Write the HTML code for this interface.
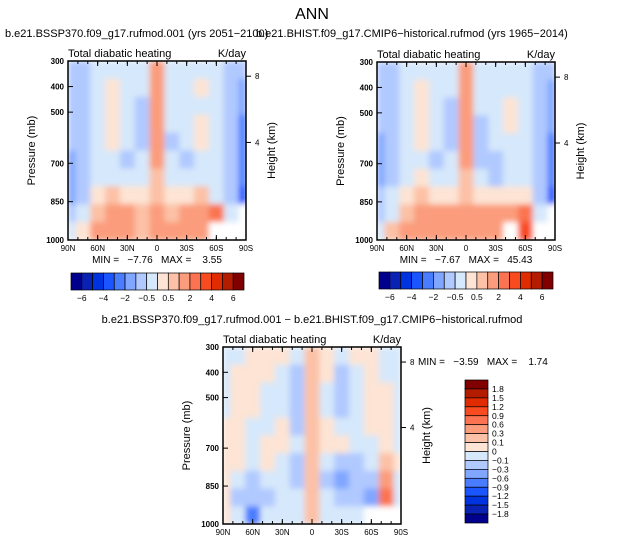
<!DOCTYPE html>
<html><head><meta charset="utf-8"><style>
body{margin:0;background:#fff;}
svg{display:block;font-family:"Liberation Sans",sans-serif;}
.pre{white-space:pre;}
</style></head><body>
<svg id="c" width="625" height="545" viewBox="0 0 625 545">
<defs><filter id="sm" x="0" y="0" width="1" height="1"><feGaussianBlur stdDeviation="3" edgeMode="duplicate"/></filter></defs>
</svg>
<script>
const palette=["#00008c","#0a22b4","#0033e0","#1a55ff","#4a7cff","#80a6ff","#b0c9ff","#d6e8fb","#fde4d4","#fcc1a6","#fb9c7c","#fb7350","#f84c20","#e02c00","#b41c00","#800000"];
const latTicks=["90N","60N","30N","0","30S","60S","90S"];
const presTicks=[300,400,500,700,850,1000];
const cbLabelsTop=["-6","-4","-2","-0.5","0.5","2","4","6"];
const cbLabelsDiff=["1.8","1.5","1.2","0.9","0.6","0.3","0.1","0","-0.1","-0.3","-0.6","-0.9","-1.2","-1.5","-1.8"];
// grid values: color-level index per cell, rows 300->1000 mb, cols 90N->90S; -1 = missing
const gridFuture=[
[6,6,7,7,7,7,10,7,7,7,7,6,6],
[6,6,7,8,7,7,10,7,7,8,7,6,5],
[6,6,7,8,7,6,10,7,7,7,7,6,5],
[6,6,7,8,7,6,10,7,7,8,7,6,4],
[6,6,7,8,7,6,10,6,7,8,7,6,4],
[5,6,7,7,6,7,10,7,6,7,7,6,4],
[5,6,7,7,7,7,9,7,7,7,7,6,4],
[5,6,8,9,8,8,9,8,8,9,7,6,3],
[6,7,9,10,10,9,10,9,10,10,11,7,-1],
[7,8,10,10,10,9,10,10,10,10,-1,-1,-1]];
const gridHist=[
[6,6,7,7,7,7,10,7,7,7,7,6,6],
[6,6,7,8,7,7,10,7,7,7,7,6,5],
[6,6,7,8,7,6,10,7,7,8,7,6,5],
[6,6,7,8,7,6,10,6,7,8,7,6,5],
[5,6,7,8,7,6,10,6,7,7,7,6,4],
[5,6,7,7,6,7,10,6,6,7,7,6,4],
[5,6,7,8,7,7,9,7,6,7,7,6,4],
[6,7,8,9,8,8,9,8,8,8,8,6,3],
[6,7,9,10,10,10,10,10,10,10,11,7,-1],
[7,9,10,10,10,10,10,10,10,-1,12,-1,-1]];
const gridDiff=[
[7,7,8,8,8,7,9,8,7,8,8,7,7],
[7,8,8,8,7,6,9,8,6,7,8,7,7],
[7,8,8,7,7,6,9,7,6,7,8,8,7],
[7,8,8,7,7,6,9,7,6,7,8,8,7],
[8,8,7,7,8,6,9,8,7,7,8,8,7],
[8,8,7,8,8,7,9,8,8,7,7,8,7],
[8,8,7,8,7,6,9,7,6,6,7,9,8],
[8,7,6,7,7,6,9,6,5,6,6,10,7],
[8,6,6,6,7,7,9,7,6,6,5,11,7],
[8,7,4,7,7,7,9,7,7,7,-1,-1,-1]];

const svg=document.getElementById('c');
const NS="http://www.w3.org/2000/svg";
function mk(tag,attrs,parent,text){const e=document.createElementNS(NS,tag);for(const k in attrs)e.setAttribute(k,attrs[k]);if(text!==undefined)e.textContent=text;(parent||svg).appendChild(e);return e;}

function panel(x0,y0,w,h,grid,name){
  const g=mk('g',{});
  
  
  const field=mk('g',{filter:'url(#sm)'},g);
  const nr=grid.length,nc=grid[0].length;
  const xs=i=>x0+w*i/(nc-1)-w/(2*(nc-1));
  const py=p=>y0+h*(p-300)/700;
  mk('rect',{x:x0,y:y0,width:w,height:h,fill:'#fff'},field);
  for(let r=0;r<nr;r++)for(let c=0;c<nc;c++){
    const v=grid[r][c];
    let xa=Math.max(x0,xs(c)),xb=Math.min(x0+w,xs(c+1));
    const ya=py(300+700*r/nr),yb=py(300+700*(r+1)/nr);
    const cell=mk('rect',{x:xa,y:ya,width:xb-xa+0.5,height:yb-ya+0.5,fill:v<0?'#fff':palette[v]},field);
    
    
  }
  mk('rect',{x:x0,y:y0,width:w,height:h,fill:'none',stroke:'#000','stroke-width':1.5},g);
  latTicks.forEach((t,i)=>{const x=x0+w*i/6;
    mk('line',{x1:x,y1:y0+h,x2:x,y2:y0+h-5,stroke:'#000'},g);
    mk('line',{x1:x,y1:y0,x2:x,y2:y0+5,stroke:'#000'},g);
    const lb=mk('text',{x:x,y:y0+h+11,'font-size':8,'text-anchor':'middle'},g,t);
    
  });
  for(let i=0;i<=18;i++){const x=x0+w*i/18;mk('line',{x1:x,y1:y0,x2:x,y2:y0+3,stroke:'#000'},g);mk('line',{x1:x,y1:y0+h,x2:x,y2:y0+h-3,stroke:'#000'},g);}
  presTicks.forEach(p=>{const y=py(p);
    mk('line',{x1:x0,y1:y,x2:x0+5,y2:y,stroke:'#000'},g);
    const lb=mk('text',{x:x0-4,y:y+3,'font-size':8,'text-anchor':'end','font-weight':'bold'},g,String(p));
    
  });
  [[8,0.085],[4,0.455]].forEach(([k,f])=>{const y=y0+h*f;
    mk('line',{x1:x0+w,y1:y,x2:x0+w+5,y2:y,stroke:'#000'},g);
    mk('text',{x:x0+w+9,y:y+3,'font-size':8},g,String(k));});
  const yl=mk('text',{x:0,y:0,'font-size':11,'text-anchor':'middle',transform:`translate(${x0-33},${y0+h/2}) rotate(-90)`},g,'Pressure (mb)');
  
  const hl=mk('text',{x:0,y:0,'font-size':11,'text-anchor':'middle',transform:`translate(${x0+w+29},${y0+h/2}) rotate(-90)`},g,'Height (km)');
  
  const t1=mk('text',{x:x0,y:y0-4,'font-size':11},g,'Total diabatic heating');
  
  const t2=mk('text',{x:x0+w,y:y0-4,'font-size':11,'text-anchor':'end'},g,'K/day');
  
}
function hbar(x0,y0,w,h,name){
  const g=mk('g',{});
  
  const n=palette.length,bw=w/n;
  palette.forEach((c,i)=>{const b=mk('rect',{x:x0+i*bw,y:y0,width:bw,height:h,fill:c,stroke:'#000','stroke-width':0.7},g);
    });
  cbLabelsTop.forEach((t,i)=>{const x=x0+bw*(1+2*i);
    mk('text',{x:x,y:y0+h+11,'font-size':8.5,'text-anchor':'middle'},g,t.replace('-','\u2212'));});
}
function vbar(x0,y0,w,h,name){
  const g=mk('g',{});
  
  const n=palette.length,bh=h/n;
  palette.slice().reverse().forEach((c,i)=>{const b=mk('rect',{x:x0,y:y0+i*bh,width:w,height:bh,fill:c,stroke:'#000','stroke-width':0.7},g);
    });
  cbLabelsDiff.forEach((t,i)=>{mk('text',{x:x0+w+4,y:y0+bh*(i+1)+3,'font-size':8.5},g,t.replace('-','\u2212'));});
}
const title=mk('text',{x:312,y:19,'font-size':16,'text-anchor':'middle'},svg,'ANN');

const s1=mk('text',{x:5,y:37,'font-size':11},svg,'b.e21.BSSP370.f09_g17.rufmod.001 (yrs 2051\u22122100)');

const s2=mk('text',{x:256,y:37,'font-size':11},svg,'b.e21.BHIST.f09_g17.CMIP6\u2212historical.rufmod (yrs 1965\u22122014)');

const s3=mk('text',{x:312,y:323,'font-size':11,'text-anchor':'middle'},svg,'b.e21.BSSP370.f09_g17.rufmod.001 \u2212 b.e21.BHIST.f09_g17.CMIP6\u2212historical.rufmod');

panel(68,61,178,179,gridFuture,'future-panel');
panel(377,62,178,178,gridHist,'historical-panel');
panel(223,347,178,177,gridDiff,'difference-panel');
mk('text',{x:157,y:263,'font-size':10,'text-anchor':'middle','class':'pre'},svg,'MIN =   \u22127.76   MAX =    3.55');
mk('text',{x:466,y:263,'font-size':10,'text-anchor':'middle','class':'pre'},svg,'MIN =   \u22127.67   MAX =   45.43');
mk('text',{x:418,y:365,'font-size':10,'class':'pre'},svg,'MIN =   \u22123.59   MAX =    1.74');
hbar(71,273,173,17,'left-colorbar');
hbar(379,272,174,17,'right-colorbar');
vbar(465,380,23,143,'diff-colorbar');
</script>
</body></html>
